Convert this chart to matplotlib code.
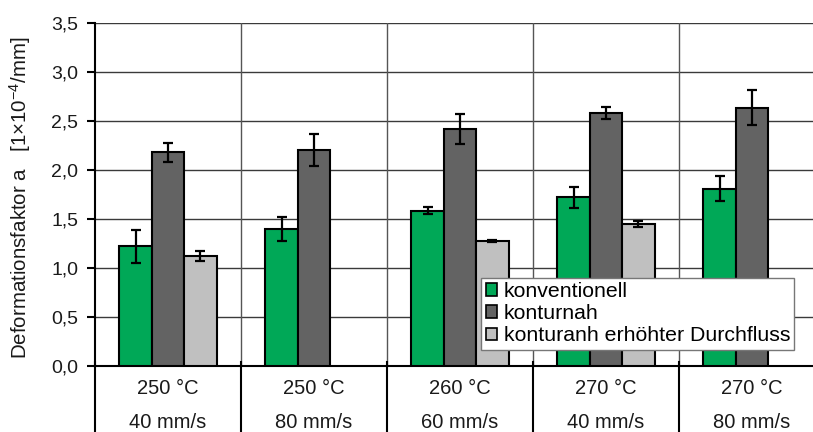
import numpy as np
import matplotlib
matplotlib.use("Agg")
import matplotlib.pyplot as plt
from matplotlib.patches import Patch
import matplotlib.transforms as mtransforms

plt.rcParams['font.family'] = ['Liberation Sans', 'DejaVu Sans']
plt.rcParams['mathtext.fontset'] = 'custom'
plt.rcParams['mathtext.rm'] = 'Liberation Sans'
plt.rcParams['mathtext.it'] = 'Liberation Sans'

temps = ["250 °C", "250 °C", "260 °C", "270 °C", "270 °C"]
speeds = ["40 mm/s", "80 mm/s", "60 mm/s", "40 mm/s", "80 mm/s"]
series_names = ["konventionell", "konturnah", "konturanh erhöhter Durchfluss"]
konventionell = [1.22, 1.40, 1.585, 1.72, 1.81]
konventionell_err = [0.165, 0.125, 0.035, 0.105, 0.13]
konturnah = [2.18, 2.205, 2.42, 2.58, 2.635]
konturnah_err = [0.10, 0.165, 0.15, 0.06, 0.18]
durchfluss = [1.12, np.nan, 1.28, 1.445, np.nan]
durchfluss_err = [0.05, np.nan, 0.01, 0.03, np.nan]
yticks = [0.0, 0.5, 1.0, 1.5, 2.0, 2.5, 3.0, 3.5]

colors = ["#00A857", "#636363", "#C0C0C0"]
txt = '#1a1a1a'
fs = 14

W, H = 813, 432
fig = plt.figure(figsize=(W / 100, H / 100), dpi=100)
left_px, right_px, top_px, bot_px = 95, 813, 23, 366
ax = fig.add_axes([left_px / W, (H - bot_px) / H, (right_px - left_px) / W, (bot_px - top_px) / H])

group_px = 146.0
xmax = (right_px - left_px) / group_px
ax.set_xlim(0, xmax)
ax.set_ylim(0, 3.5)

x = np.arange(len(temps)) + 0.5
w = 0.222
data = [(konventionell, konventionell_err), (konturnah, konturnah_err), (durchfluss, durchfluss_err)]
for k, ((vals, errs), col) in enumerate(zip(data, colors)):
    pos = x + (k - 1) * w
    ax.bar(pos, vals, width=w, color=col, edgecolor='black', linewidth=1.5, zorder=3)
    ax.errorbar(pos, vals, yerr=errs, fmt='none', ecolor='black', elinewidth=1.6,
                capsize=3.5, capthick=1.6, zorder=4)

# grid
for yv in yticks[1:]:
    ax.axhline(yv, color='#3a3a3a', lw=1.0, zorder=1)
for b in range(1, len(temps)):
    ax.axvline(b, color='#555555', lw=1.0, zorder=1)

# spines
for s in ['top', 'right']:
    ax.spines[s].set_visible(False)
ax.spines['bottom'].set_linewidth(1.5)
ax.spines['left'].set_linewidth(1.5)
ax.spines['left'].set_bounds(0, 3.5)

ax.set_yticks(yticks)
ax.set_yticklabels([f"{v:.1f}".replace('.', ',') for v in yticks], fontsize=fs, color=txt)
ax.tick_params(axis='y', direction='out', length=6, width=1.5, pad=6)
ax.set_xticks([])

# category table below axis
trans = mtransforms.blended_transform_factory(ax.transData, ax.transAxes)
for b in range(0, len(temps)):
    ax.plot([b, b], [0.0, -0.25], transform=trans, color='black', lw=1.5, clip_on=False, zorder=5)
    ax.plot([b, b], [-0.0, 0.012], transform=trans, color='black', lw=1.5, clip_on=False, zorder=5)
for i in range(len(temps)):
    ax.text(x[i], -0.067, temps[i], transform=trans, ha='center', va='center', fontsize=14.5, color=txt)
    ax.text(x[i], -0.165, speeds[i], transform=trans, ha='center', va='center', fontsize=14.5, color=txt)

ax.set_ylabel("Deformationsfaktor a   [1×10$^{-4}$/mm]", fontsize=14.8, color=txt)
ax.yaxis.set_label_coords(-0.087, 0.49)

handles = [Patch(facecolor=c, edgecolor='black', linewidth=1.2) for c in colors]
leg = ax.legend(handles, series_names, loc='upper left', bbox_to_anchor=(0.538, 0.257),
                fontsize=15.3, frameon=True, fancybox=False, framealpha=1, edgecolor='#777777',
                handlelength=0.55, handleheight=0.55, handletextpad=0.3, labelspacing=0.15,
                borderpad=0.2, borderaxespad=0)
leg.get_frame().set_linewidth(1.0)
leg.set_zorder(10)

fig.savefig("out.png", dpi=100)
